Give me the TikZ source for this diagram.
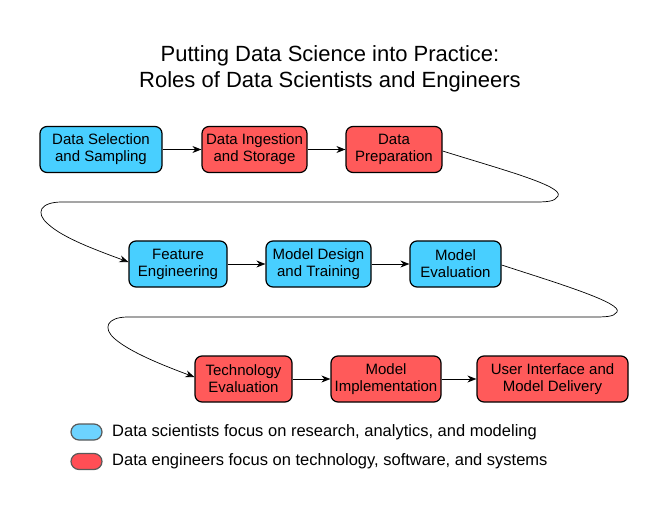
\documentclass[tikz,border=0pt]{standalone}
\usepackage{fontspec}
\setmainfont{Liberation Sans}
\usetikzlibrary{arrows.meta}
\definecolor{sciblue}{HTML}{48CFFF}
\definecolor{engred}{HTML}{FF5A5A}
\definecolor{legblue}{HTML}{6DD3FF}
\definecolor{legred}{HTML}{FF4E55}
\tikzset{
  proc/.style={draw=black, line width=1.2pt, rounded corners=7pt, minimum height=46pt, inner sep=0pt, align=center, font=\fontsize{15}{17}\selectfont},
  sci/.style={proc, fill=sciblue},
  eng/.style={proc, fill=engred},
  flow/.style={-{Stealth[length=9pt,width=7pt]}, line width=0.9pt},
  wave/.style={-{Stealth[length=9pt,width=7pt]}, line width=0.7pt},
  pill/.style={draw=black!65, line width=1.2pt, rounded corners=8pt, minimum width=31pt, minimum height=16pt, inner sep=0pt},
  legtext/.style={anchor=west, inner sep=0pt, font=\fontsize{16.5}{20}\selectfont},
}
\begin{document}
\begin{tikzpicture}[x=1pt,y=-1pt]
\useasboundingbox (0,0) rectangle (660,510);
\node[align=center, font=\fontsize{22}{26.5}\selectfont] (title) at (330,69) {Putting Data Science into Practice:\\Roles of Data Scientists and Engineers};

\node[sci, minimum width=122pt] (b1) at (101,149.5) {Data Selection\\and Sampling};
\node[eng, minimum width=105pt] (b2) at (254.5,149.5) {Data Ingestion\\and Storage};
\node[eng, minimum width=96pt] (b3) at (394,149.5) {Data\\Preparation};

\node[sci, minimum width=98pt] (b4) at (178,264) {Feature\\Engineering};
\node[sci, minimum width=105pt] (b5) at (318.5,264) {Model Design\\and Training};
\node[sci, minimum width=91pt] (b6) at (455.5,264) {Model\\Evaluation};

\node[eng, minimum width=97pt] (b7) at (243.5,379) {Technology\\Evaluation};
\node[eng, minimum width=110pt] (b8) at (386,379) {Model\\Implementation};
\node[eng, minimum width=151pt] (b9) at (552.5,379) {User Interface and\\Model Delivery};

\draw[flow] (b1) -- (b2);
\draw[flow] (b2) -- (b3);
\draw[flow] (b4) -- (b5);
\draw[flow] (b5) -- (b6);
\draw[flow] (b7) -- (b8);
\draw[flow] (b8) -- (b9);

\draw[wave] (b3.east |- 0,151) .. controls (500,169) and (564,186) .. (558,196)
  .. controls (555,202) and (546,202) .. (532,202) -- (62,202)
  .. controls (40,202) and (35,213) .. (48,224)
  .. controls (63,238) and (96,250) .. (b4.west |- 0,262);
\draw[wave] (b6.east |- 0,265) .. controls (557,283) and (623,303) .. (617,312)
  .. controls (614,317) and (605,317) .. (592,317) -- (128,317)
  .. controls (107,317) and (102,328) .. (115,339)
  .. controls (130,352) and (162,365) .. (b7.west |- 0,377);

\node[pill, fill=legblue] (p1) at (86.5,432) {};
\node[legtext] (l1) at (112,432) {Data scientists focus on research, analytics, and modeling};
\node[pill, fill=legred] (p2) at (86.5,461.5) {};
\node[legtext] (l2) at (112,461.5) {Data engineers focus on technology, software, and systems};
\end{tikzpicture}
\end{document}
